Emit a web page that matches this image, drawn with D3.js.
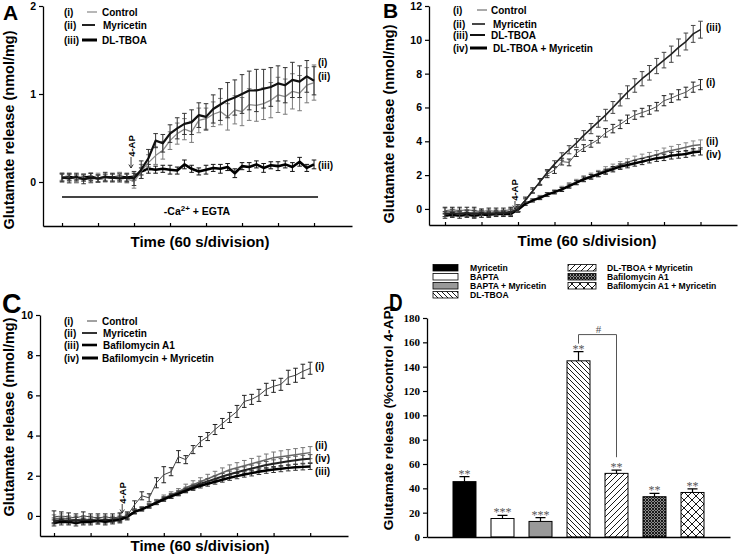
<!DOCTYPE html>
<html><head><meta charset="utf-8">
<script src="https://cdn.jsdelivr.net/npm/d3@7"></script>
<style>
body{margin:0;background:#fff;}
svg{display:block;font-family:Arial,"Liberation Sans",Helvetica,sans-serif;}
</style></head><body>
<svg id="fig" width="739" height="559"></svg>
<script>
// ---------- shared time base (seconds, one point every 12 s) ----------
const timeSec = d3.range(0, 421, 12);
const tickSec = [0, 60, 120, 180, 240, 300, 360, 420];

// ---------- Panel A (nmol/mg) ----------
const aControl = [0.06,0.05,0.04,0.05,0.03,0.05,0.04,0.05,0.06,0.04,0.00,0.12,0.22,0.30,0.36,0.47,0.55,0.60,0.57,0.70,0.72,0.77,0.80,0.74,0.82,0.80,0.88,0.87,0.89,0.93,0.99,0.97,1.03,1.01,1.10,1.13];
const aControlErr = [0.04,0.04,0.05,0.04,0.04,0.05,0.04,0.04,0.05,0.05,0.07,0.08,0.09,0.10,0.10,0.10,0.12,0.12,0.12,0.14,0.12,0.14,0.15,0.15,0.16,0.16,0.18,0.18,0.18,0.20,0.20,0.20,0.20,0.20,0.20,0.20];
const aMyricetin = [0.05,0.04,0.06,0.03,0.05,0.04,0.06,0.05,0.04,0.05,0.04,0.14,0.27,0.47,0.44,0.55,0.61,0.66,0.68,0.76,0.74,0.83,0.88,0.93,0.96,1.00,1.04,1.04,1.06,1.08,1.12,1.10,1.16,1.14,1.20,1.15];
const aMyricetinErr = [0.05,0.05,0.04,0.05,0.05,0.04,0.05,0.05,0.04,0.05,0.08,0.10,0.10,0.08,0.10,0.10,0.12,0.12,0.14,0.14,0.15,0.16,0.18,0.20,0.20,0.22,0.22,0.24,0.22,0.22,0.20,0.20,0.20,0.18,0.18,0.16];
const aTboa = [0.05,0.06,0.04,0.05,0.06,0.04,0.05,0.05,0.06,0.05,0.06,0.12,0.15,0.14,0.15,0.14,0.13,0.20,0.15,0.12,0.14,0.16,0.15,0.17,0.10,0.18,0.17,0.20,0.16,0.19,0.18,0.20,0.17,0.23,0.16,0.20];
const aTboaErr = [0.04,0.04,0.04,0.04,0.04,0.04,0.04,0.04,0.04,0.04,0.04,0.04,0.05,0.04,0.04,0.05,0.04,0.05,0.04,0.04,0.05,0.04,0.05,0.04,0.05,0.04,0.05,0.04,0.05,0.04,0.05,0.04,0.05,0.05,0.04,0.05];

// ---------- Panel B (nmol/mg) ----------
const bControl = [-0.10,-0.05,-0.10,-0.05,-0.10,-0.15,-0.10,-0.15,-0.10,-0.05,0.05,0.55,1.10,1.60,2.05,2.30,2.80,2.75,3.30,3.60,3.85,4.10,4.50,4.75,5.00,5.30,5.55,5.70,5.85,6.05,6.40,6.55,6.75,6.90,7.20,7.35];
const bControlErr = [0.20,0.15,0.20,0.15,0.20,0.15,0.15,0.20,0.15,0.15,0.20,0.15,0.15,0.20,0.20,0.20,0.20,0.20,0.20,0.20,0.20,0.20,0.25,0.25,0.25,0.25,0.25,0.25,0.25,0.25,0.30,0.25,0.30,0.30,0.30,0.30];
const bMyricetin = [-0.20,-0.15,-0.20,-0.25,-0.20,-0.20,-0.25,-0.20,-0.20,-0.15,0.00,0.30,0.50,0.70,0.85,1.00,1.20,1.40,1.60,1.80,1.95,2.10,2.30,2.45,2.60,2.75,2.90,3.00,3.10,3.20,3.35,3.45,3.55,3.65,3.75,3.80];
const bMyricetinErr = [0.25,0.20,0.20,0.20,0.20,0.15,0.20,0.15,0.15,0.20,0.15,0.10,0.10,0.10,0.12,0.12,0.14,0.15,0.15,0.16,0.17,0.18,0.20,0.20,0.20,0.22,0.22,0.24,0.24,0.25,0.25,0.25,0.26,0.26,0.27,0.28];
const bTboa = [-0.30,-0.25,-0.30,-0.25,-0.30,-0.25,-0.30,-0.25,-0.25,-0.20,0.00,0.50,1.05,1.60,2.15,2.65,3.10,3.50,3.90,4.35,4.75,5.15,5.55,6.00,6.45,6.90,7.30,7.70,8.05,8.45,8.80,9.15,9.55,9.90,10.35,10.60];
const bTboaErr = [0.15,0.20,0.15,0.15,0.20,0.15,0.15,0.15,0.15,0.20,0.15,0.10,0.12,0.15,0.18,0.20,0.22,0.24,0.26,0.28,0.30,0.32,0.34,0.35,0.36,0.38,0.40,0.42,0.43,0.45,0.46,0.48,0.50,0.50,0.50,0.50];
const bTboaMyr = [-0.40,-0.35,-0.40,-0.35,-0.40,-0.35,-0.35,-0.30,-0.30,-0.30,-0.05,0.30,0.50,0.65,0.85,1.00,1.15,1.35,1.55,1.75,1.90,2.05,2.20,2.35,2.50,2.60,2.70,2.80,2.90,3.00,3.05,3.15,3.20,3.25,3.35,3.40];
const bTboaMyrErr = [0.15,0.15,0.15,0.15,0.15,0.15,0.15,0.15,0.15,0.15,0.15,0.08,0.08,0.10,0.10,0.10,0.12,0.12,0.12,0.14,0.14,0.15,0.15,0.16,0.16,0.17,0.17,0.18,0.18,0.19,0.19,0.20,0.20,0.20,0.21,0.21];

// ---------- Panel C (nmol/mg) ----------
const cControl = [-0.05,0.00,-0.05,-0.10,0.00,-0.05,-0.10,-0.05,-0.10,-0.05,0.00,0.55,1.00,0.90,1.65,2.05,2.20,2.95,2.80,3.30,3.70,3.95,4.30,4.60,4.90,5.20,5.70,5.80,6.00,6.30,6.45,6.55,6.90,7.00,7.20,7.35];
const cControlErr = [0.30,0.20,0.20,0.20,0.20,0.15,0.20,0.15,0.20,0.20,0.20,0.20,0.20,0.20,0.25,0.40,0.20,0.30,0.20,0.20,0.25,0.20,0.25,0.25,0.25,0.30,0.30,0.25,0.30,0.30,0.30,0.30,0.35,0.35,0.35,0.30];
const cMyricetin = [-0.15,-0.10,-0.15,-0.20,-0.15,-0.20,-0.15,-0.20,-0.15,-0.10,0.00,0.20,0.35,0.50,0.70,0.90,1.05,1.20,1.40,1.55,1.70,1.85,2.00,2.15,2.30,2.40,2.50,2.60,2.70,2.80,2.90,2.95,3.00,3.05,3.10,3.15];
const cMyricetinErr = [0.20,0.20,0.15,0.20,0.15,0.20,0.15,0.20,0.15,0.20,0.15,0.10,0.10,0.12,0.12,0.14,0.15,0.16,0.18,0.20,0.20,0.22,0.22,0.24,0.24,0.25,0.26,0.26,0.27,0.28,0.28,0.29,0.30,0.30,0.30,0.30];
const cBafilomycin = [-0.35,-0.30,-0.30,-0.35,-0.30,-0.30,-0.25,-0.30,-0.25,-0.20,-0.05,0.20,0.33,0.48,0.65,0.82,0.97,1.10,1.25,1.38,1.50,1.60,1.70,1.80,1.90,1.98,2.06,2.13,2.20,2.26,2.31,2.35,2.39,2.42,2.44,2.46];
const cBafilomycinErr = [0.15,0.15,0.15,0.15,0.15,0.15,0.15,0.15,0.15,0.15,0.10,0.08,0.08,0.08,0.09,0.09,0.10,0.10,0.10,0.11,0.11,0.12,0.12,0.12,0.13,0.13,0.13,0.14,0.14,0.14,0.15,0.15,0.15,0.15,0.15,0.15];
const cBafMyr = [-0.25,-0.20,-0.25,-0.20,-0.25,-0.20,-0.25,-0.20,-0.20,-0.15,0.00,0.20,0.35,0.50,0.68,0.85,1.00,1.15,1.30,1.45,1.60,1.72,1.84,1.96,2.07,2.17,2.27,2.36,2.45,2.53,2.60,2.66,2.72,2.77,2.82,2.85];
const cBafMyrErr = [0.15,0.15,0.15,0.15,0.15,0.15,0.15,0.15,0.15,0.15,0.10,0.10,0.10,0.10,0.11,0.11,0.12,0.12,0.13,0.13,0.14,0.14,0.15,0.15,0.16,0.16,0.17,0.17,0.18,0.18,0.19,0.19,0.20,0.20,0.20,0.20];

// ---------- Panel D (% control 4-AP) ----------
const dCategories = ["Myricetin","BAPTA","BAPTA + Myricetin","DL-TBOA","DL-TBOA + Myricetin","Bafilomycin A1","Bafilomycin A1 + Myricetin"];
const dValues = [45.5, 15.2, 12.8, 144.8, 52.3, 33.1, 36.6];
const dErrors = [4.2, 2.6, 3.2, 7.6, 2.6, 2.8, 3.0];
const dSignif = ["**","***","***","**","**","**","**"];
const dYTicks = [0,20,40,60,80,100,120,140,160,180];

const svg = d3.select("#fig");
const defs = svg.append("defs");
function pattern(id, w, h, d, sw, bg){
  const p = defs.append("pattern").attr("id",id).attr("patternUnits","userSpaceOnUse").attr("width",w).attr("height",h);
  p.append("rect").attr("width",w).attr("height",h).attr("fill",bg || "#fff");
  p.append("path").attr("d",d).attr("stroke",bg ? "#fff" : "#000").attr("stroke-width",sw).attr("fill","none");
}
pattern("pBack",5,5,"M0,0L5,5M-1,4L1,6M4,-1L6,1",0.9);
pattern("pFwd",6,6,"M0,6L6,0M-1,1L1,-1M5,7L7,5",0.9);
pattern("pGrid",3,3,"M1.5,0.5H2.5M0,2H1",1,"#1a1a1a");
pattern("pCross",8,8,"M0,0L8,8M8,0L0,8M-1,7L1,9M7,-1L9,1M-1,1L1,-1M7,9L9,7",0.9);
const dFills = ["#000","#fff","#999","url(#pBack)","url(#pFwd)","url(#pGrid)","url(#pCross)"];

function styleAxis(g, fs, family){
  g.selectAll("path.domain").attr("stroke","#000").attr("stroke-width",1.3);
  g.selectAll(".tick line").attr("stroke","#000").attr("stroke-width",1.2);
  g.selectAll(".tick text").attr("font-size",fs).attr("font-weight","bold").attr("fill","#000")
    .attr("font-family", family || "Arial, 'Liberation Sans', sans-serif");
}

function linePanel(cfg){
  const x = d3.scaleLinear().domain(cfg.xDomain).range(cfg.xRange);
  const y = d3.scaleLinear().domain(cfg.yDomain).range(cfg.yRange);
  const g = svg.append("g");
  cfg.series.forEach(s => {
    const pts = timeSec.map((t,i)=>({t:t, v:s.values[i], e:s.errors[i]}));
    g.append("g").attr("stroke", s.errColor).attr("stroke-width", s.errWidth).attr("fill","none")
      .selectAll("path").data(pts).join("path")
      .attr("d", d => {
        const cx = x(d.t), y1 = y(d.v + d.e), y2 = y(d.v - d.e);
        return `M${cx},${y1}V${y2}M${cx-2.3},${y1}H${cx+2.3}M${cx-2.3},${y2}H${cx+2.3}`;
      });
    g.append("path").datum(pts)
      .attr("d", d3.line().x(d=>x(d.t)).y(d=>y(d.v)))
      .attr("fill","none").attr("stroke", s.color).attr("stroke-width", s.width).attr("stroke-linejoin","round");
  });
  const ya = svg.append("g").attr("transform",`translate(${cfg.xRange[0]},0)`)
    .call(d3.axisLeft(y).tickValues(cfg.yTicks).tickSize(4).tickSizeOuter(0).tickPadding(3).tickFormat(d3.format("d")));
  styleAxis(ya, 10.5);
  const xa = svg.append("g").attr("transform",`translate(0,${cfg.yRange[0]})`)
    .call(d3.axisBottom(x).tickValues(tickSec).tickSizeInner(-3).tickSizeOuter(0).tickFormat(""));
  styleAxis(xa, 10.5);
  // titles
  svg.append("text").attr("transform",`translate(${cfg.yTitleX},${cfg.yTitleY}) rotate(-90)`)
    .attr("text-anchor","middle").attr("font-size",14.5).attr("font-weight","bold").text("Glutamate release (nmol/mg)");
  svg.append("text").attr("x",cfg.xTitleX).attr("y",cfg.xTitleY)
    .attr("text-anchor","middle").attr("font-size",15).attr("font-weight","bold").text("Time (60 s/division)");
  // legend
  cfg.legend.forEach((l,i) => {
    const yy = cfg.legendY[i];
    svg.append("text").attr("x",cfg.legendX).attr("y",yy+3.5).attr("font-size",10).attr("font-weight","bold").text(l.tag);
    svg.append("line").attr("x1",l.x1).attr("x2",l.x2).attr("y1",yy).attr("y2",yy)
      .attr("stroke",l.color).attr("stroke-width",l.width);
    svg.append("text").attr("x",l.tx).attr("y",yy+3.5).attr("font-size",10).attr("font-weight","bold").text(l.label);
  });
  // right-hand tags
  cfg.endTags.forEach(t => {
    svg.append("text").attr("x",t.x).attr("y",t.y).attr("font-size",10).attr("font-weight","bold").text(t.tag);
  });
  // 4-AP arrow
  const ax = x(120) + cfg.apDx;
  svg.append("text").attr("transform",`translate(${ax+3.5},${cfg.apTextY}) rotate(-90)`)
    .attr("text-anchor","middle").attr("font-size",9.5).attr("font-weight","bold").text("4-AP");
  svg.append("path").attr("d",`M${ax},${cfg.apY0}V${cfg.apY1}M${ax-2.2},${cfg.apY1-3.5}L${ax},${cfg.apY1}L${ax+2.2},${cfg.apY1-3.5}`)
    .attr("fill","none").attr("stroke","#222").attr("stroke-width",0.9);
  return {x, y};
}

// ---------- Panel A ----------
const A = linePanel({
  xDomain:[-31.7, 483.3], xRange:[43, 352], yDomain:[-0.5, 2], yRange:[226, 6], yTicks:[0,1,2],
  series:[
    {values:aTboa, errors:aTboaErr, color:"#000", width:2.6, errColor:"#111", errWidth:1},
    {values:aControl, errors:aControlErr, color:"#8a8a8a", width:1.3, errColor:"#7a7a7a", errWidth:1},
    {values:aMyricetin, errors:aMyricetinErr, color:"#111", width:2.2, errColor:"#333", errWidth:1}
  ],
  yTitleX:14, yTitleY:130, xTitleX:200, xTitleY:247,
  legendX:64, legendY:[12,25,40],
  legend:[
    {tag:"(i)", x1:87, x2:97, color:"#888", width:1.2, tx:102, label:"Control"},
    {tag:"(ii)", x1:82, x2:95, color:"#222", width:2, tx:103, label:"Myricetin"},
    {tag:"(iii)", x1:82, x2:97, color:"#000", width:3, tx:102, label:"DL-TBOA"}
  ],
  endTags:[{x:318,y:66,tag:"(i)"},{x:318,y:80,tag:"(ii)"},{x:318,y:169,tag:"(iii)"}],
  apDx:-3, apTextY:146, apY0:157, apY1:168
});
// -Ca2+ + EGTA bar
svg.append("line").attr("x1",A.x(0)).attr("x2",A.x(0)+256).attr("y1",197).attr("y2",197)
  .attr("stroke","#444").attr("stroke-width",2);
const egta = svg.append("text").attr("x",197).attr("y",215).attr("text-anchor","middle")
  .attr("font-size",10.5).attr("font-weight","bold");
egta.append("tspan").text("-Ca");
egta.append("tspan").attr("dy",-4).attr("font-size",8).text("2+");
egta.append("tspan").attr("dy",4).text(" + EGTA");

// ---------- Panel B ----------
linePanel({
  xDomain:[-26.3, 480], xRange:[429, 737], yDomain:[-0.95, 12], yRange:[225, 6], yTicks:[0,2,4,6,8,10,12],
  series:[
    {values:bMyricetin, errors:bMyricetinErr, color:"#666", width:1.5, errColor:"#888", errWidth:1},
    {values:bTboaMyr, errors:bTboaMyrErr, color:"#000", width:2.4, errColor:"#222", errWidth:1},
    {values:bControl, errors:bControlErr, color:"#555", width:1, errColor:"#222", errWidth:1},
    {values:bTboa, errors:bTboaErr, color:"#222", width:1.6, errColor:"#444", errWidth:1}
  ],
  yTitleX:394, yTitleY:124, xTitleX:587, xTitleY:246,
  legendX:453, legendY:[10,24,35,48],
  legend:[
    {tag:"(i)", x1:477, x2:487, color:"#555", width:1, tx:491, label:"Control"},
    {tag:"(ii)", x1:472, x2:485, color:"#333", width:1.8, tx:493, label:"Myricetin"},
    {tag:"(iii)", x1:470, x2:485, color:"#111", width:2, tx:491, label:"DL-TBOA"},
    {tag:"(iv)", x1:470, x2:487, color:"#000", width:3, tx:493, label:"DL-TBOA + Myricetin"}
  ],
  endTags:[{x:706,y:31,tag:"(iii)"},{x:706,y:86,tag:"(i)"},{x:706,y:145,tag:"(ii)"},{x:706,y:158,tag:"(iv)"}],
  apDx:-3, apTextY:190, apY0:201, apY1:209
});

// ---------- Panel C ----------
linePanel({
  xDomain:[-22.95, 482], xRange:[40, 348], yDomain:[-1, 10], yRange:[536, 315], yTicks:[0,2,4,6,8,10],
  series:[
    {values:cMyricetin, errors:cMyricetinErr, color:"#666", width:1.5, errColor:"#777", errWidth:1},
    {values:cBafMyr, errors:cBafMyrErr, color:"#222", width:2, errColor:"#555", errWidth:1},
    {values:cBafilomycin, errors:cBafilomycinErr, color:"#000", width:2.4, errColor:"#333", errWidth:1},
    {values:cControl, errors:cControlErr, color:"#444", width:1, errColor:"#222", errWidth:1}
  ],
  yTitleX:13.5, yTitleY:417, xTitleX:200, xTitleY:551,
  legendX:64, legendY:[321,333,345,358],
  legend:[
    {tag:"(i)", x1:87, x2:97, color:"#444", width:1, tx:102, label:"Control"},
    {tag:"(ii)", x1:82, x2:97, color:"#333", width:2, tx:103, label:"Myricetin"},
    {tag:"(iii)", x1:82, x2:97, color:"#000", width:2.6, tx:103, label:"Bafilomycin A1"},
    {tag:"(iv)", x1:82, x2:98, color:"#000", width:3, tx:102, label:"Bafilomycin + Myricetin"}
  ],
  endTags:[{x:315,y:370,tag:"(i)"},{x:315,y:449,tag:"(ii)"},{x:315,y:462,tag:"(iv)"},{x:315,y:475,tag:"(iii)"}],
  apDx:-5, apTextY:493, apY0:504, apY1:513
});

// ---------- Panel D ----------
const xD = d3.scaleBand().domain(dCategories).range([427, 730]).paddingInner(0.395).paddingOuter(0.684);
const yD = d3.scaleLinear().domain([0, 180]).range([537, 318]);
const gD = svg.append("g");
gD.selectAll("rect.bar").data(dCategories).join("rect").attr("class","bar")
  .attr("x", d => xD(d)).attr("width", xD.bandwidth())
  .attr("y", (d,i) => yD(dValues[i])).attr("height", (d,i) => yD(0) - yD(dValues[i]))
  .attr("fill", (d,i) => dFills[i]).attr("stroke","#000").attr("stroke-width",1);
gD.selectAll("path.err").data(dCategories).join("path").attr("class","err")
  .attr("d", (d,i) => {
    const cx = xD(d) + xD.bandwidth()/2, y0 = yD(dValues[i]), y1 = yD(dValues[i] + dErrors[i]);
    return `M${cx},${y0}V${y1}M${cx-5},${y1}H${cx+5}`;
  }).attr("stroke","#000").attr("stroke-width",1.2).attr("fill","none");
gD.selectAll("text.sig").data(dCategories).join("text").attr("class","sig")
  .attr("x", d => xD(d) + xD.bandwidth()/2)
  .attr("y", (d,i) => yD(dValues[i] + dErrors[i]) + 1)
  .attr("text-anchor","middle").attr("font-family","'Times New Roman','Liberation Serif',serif")
  .attr("font-size",12).attr("fill","#555").text((d,i) => dSignif[i]);
// bracket
const bx1 = xD(dCategories[3]) + xD.bandwidth()/2, bx2 = xD(dCategories[4]) + xD.bandwidth()/2;
const by1 = yD(dValues[3] + dErrors[3]) - 8, byTop = yD(dValues[3] + dErrors[3]) - 17, by2 = yD(dValues[4] + dErrors[4]) - 13;
svg.append("path").attr("d",`M${bx1},${by1}V${byTop}H${bx2}V${by2}`).attr("stroke","#555").attr("stroke-width",1).attr("fill","none");
svg.append("text").attr("x",(bx1+bx2)/2+1).attr("y",byTop-2).attr("text-anchor","middle")
  .attr("font-family","'Times New Roman','Liberation Serif',serif").attr("font-size",11).attr("fill","#555").text("#");

const yaD = svg.append("g").attr("transform","translate(427,0)")
  .call(d3.axisLeft(yD).tickValues(dYTicks).tickSize(4).tickSizeOuter(0).tickPadding(3));
styleAxis(yaD, 11, "'Times New Roman','Liberation Serif',serif");
const xaD = svg.append("g").attr("transform","translate(0,537)")
  .call(d3.axisBottom(xD).tickSize(0).tickFormat(""));
styleAxis(xaD, 11);
svg.append("text").attr("transform","translate(393,418) rotate(-90)").attr("text-anchor","middle")
  .attr("font-size",13.7).attr("font-weight","bold").text("Glutamate release (%control 4-AP)");

// legend D
const legRows = [267.5, 276.5, 285.5, 294.5];
dCategories.forEach((c,i) => {
  const col = i < 4 ? 0 : 1, row = i < 4 ? i : i - 4;
  const sx = col ? 568 : 433, sw = col ? 28 : 25, tx = col ? 607 : 470;
  const yy = legRows[row];
  svg.append("rect").attr("x",sx).attr("y",yy-3).attr("width",sw).attr("height",6.5)
    .attr("fill",dFills[i]).attr("stroke","#000").attr("stroke-width",0.8);
  svg.append("text").attr("x",tx).attr("y",yy+3.2).attr("font-size",8.6).attr("font-weight","bold").text(c);
});

// panel letters
[["A",3,20,21,1],["B",383,18,21,1],["C",2,313,27,1],["D",389,311,23,0.82]].forEach(p => {
  svg.append("text").attr("transform",`translate(${p[1]},${p[2]}) scale(${p[4]},1)`)
    .attr("font-size",p[3]).attr("font-weight","bold").text(p[0]);
});
</script>
</body></html>
